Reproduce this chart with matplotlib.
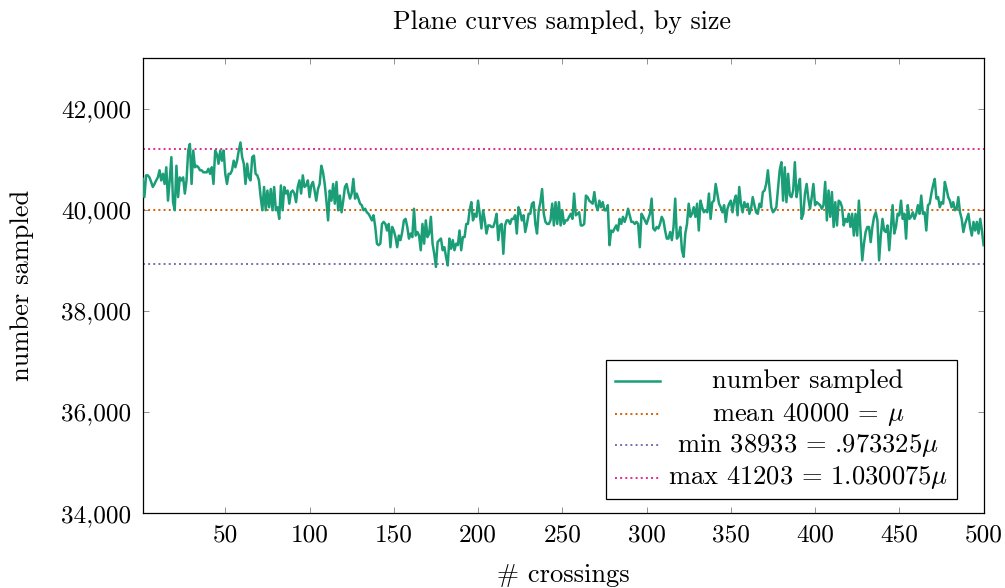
import numpy as np
import matplotlib.pyplot as plt
from matplotlib.patches import Rectangle

plt.rcParams['font.family'] = 'serif'
plt.rcParams['font.serif'] = ['cmr10']
plt.rcParams['mathtext.fontset'] = 'cm'
plt.rcParams['axes.formatter.use_mathtext'] = True

# number sampled per crossing count (1..500)
sampled_001_100 = [
    40610, 40250, 40680, 40680, 40640, 40550, 40450, 40510, 40580, 40640,
    40780, 40580, 40710, 40510, 40840, 40180, 40580, 41040, 40150, 39990,
    40870, 40250, 40640, 40580, 40640, 40320, 40580, 41170, 41300, 40510,
    41170, 40840, 40870, 40840, 40780, 40780, 40740, 40740, 40740, 40810,
    40710, 40840, 40510, 41170, 41100, 40910, 41170, 40970, 41170, 40710,
    40510, 40710, 40710, 40780, 40970, 40840, 40970, 41170, 41330, 41040,
    40910, 40510, 40910, 40640, 40580, 41040, 41070, 40710, 40680, 40580,
    40250, 39990, 40450, 39990, 40380, 40050, 40410, 39990, 40450, 39990,
    40050, 39820, 40480, 39990, 40450, 40320, 40380, 40120, 40350, 40380,
    40320, 40150, 40450, 40580, 40320, 40680, 40450, 40480, 40580, 40250,
]
sampled_101_200 = [
    40480, 40550, 40380, 40180, 40410, 40510, 40870, 40740, 40510, 40180,
    39790, 40380, 40180, 40510, 40120, 40550, 39990, 40280, 39950, 40180,
    40450, 40510, 40350, 40220, 40320, 40610, 40220, 40320, 40220, 40120,
    40090, 39990, 40020, 39950, 39920, 39860, 39790, 39890, 39660, 39330,
    39300, 39330, 39720, 39760, 39720, 39590, 39720, 39260, 39660, 39590,
    39460, 39260, 39490, 39400, 39560, 39790, 39820, 39660, 39430, 39530,
    39460, 40020, 39490, 39560, 39490, 39200, 39720, 39330, 39790, 39460,
    39530, 39860, 39330, 39130, 38870, 39360, 39400, 39430, 39200, 39260,
    39070, 38900, 39430, 39230, 39400, 39200, 39330, 39300, 39590, 39200,
    39460, 39460, 39720, 39720, 39990, 40150, 39790, 39920, 39860, 40180,
]
sampled_201_300 = [
    39920, 39630, 39990, 39790, 39530, 39690, 39690, 39660, 39660, 39760,
    39920, 39400, 39690, 39720, 39130, 39690, 39790, 39790, 39720, 39820,
    39820, 39890, 39530, 40050, 39950, 39790, 39890, 39560, 39720, 39920,
    39920, 40120, 40150, 39720, 39530, 39990, 40150, 40410, 39920, 39760,
    39720, 39720, 39790, 40120, 39690, 40150, 39720, 40150, 39690, 39990,
    39720, 39790, 39790, 39860, 39920, 39820, 40320, 39890, 39920, 39950,
    39690, 39690, 39720, 40280, 40250, 40180, 40150, 40120, 40350, 40090,
    39990, 40180, 40050, 40150, 39990, 39990, 40090, 39300, 39590, 39560,
    39630, 39690, 39590, 39820, 39720, 39860, 39760, 39860, 40020, 39890,
    39760, 39760, 39720, 39760, 39720, 39260, 39920, 39860, 39790, 39720,
]
sampled_301_400 = [
    39820, 39920, 40220, 39630, 39590, 39660, 39630, 39720, 39860, 39790,
    39590, 39430, 39430, 39560, 39400, 39660, 40220, 39430, 39490, 39660,
    39200, 39070, 39530, 39720, 40120, 39860, 39920, 40050, 39860, 40120,
    39590, 40180, 40050, 39950, 39990, 39950, 40320, 39820, 40150, 40180,
    40510, 40320, 40120, 40050, 39950, 40090, 39760, 40020, 40120, 40180,
    39950, 40180, 40280, 39890, 40450, 40120, 39950, 40150, 40050, 40120,
    39920, 40020, 40250, 40090, 39950, 39920, 40120, 40050, 40350, 40380,
    40510, 40780, 40410, 40050, 39950, 39990, 40050, 40410, 40780, 40940,
    40180, 40840, 40150, 40710, 40280, 40250, 40380, 40940, 40250, 40450,
    40610, 39820, 39920, 40320, 40510, 40220, 40020, 40250, 40510, 40090,
]
sampled_401_500 = [
    40150, 40120, 40090, 40020, 40090, 40550, 39790, 40380, 39860, 40350,
    39660, 40150, 39690, 40180, 40150, 40050, 39690, 39820, 39760, 39920,
    39660, 39920, 39490, 39920, 39490, 40180, 39560, 39000, 39330, 39560,
    39660, 39660, 39360, 39660, 39860, 39950, 39790, 39000, 39490, 39820,
    39590, 39560, 39690, 39200, 39660, 40090, 39530, 39660, 39920, 39890,
    40180, 39820, 39920, 39430, 40090, 39820, 39860, 39950, 39820, 39920,
    40090, 39920, 40280, 39920, 39950, 39590, 40090, 40120, 40320, 40480,
    40610, 40220, 40250, 40050, 40150, 40120, 40550, 40410, 40250, 40180,
    40050, 40150, 39990, 40020, 40250, 39950, 39820, 39560, 39720, 39820,
    39920, 39660, 39490, 39760, 39590, 39760, 39530, 39820, 39590, 39300,
]

sampled = (sampled_001_100 + sampled_101_200 + sampled_201_300
           + sampled_301_400 + sampled_401_500)
crossings = np.arange(1, len(sampled) + 1)

mean_val = 40000
min_val = 38933
max_val = 41203

xticks = [50, 100, 150, 200, 250, 300, 350, 400, 450, 500]
yticks = [34000, 36000, 38000, 40000, 42000]
ytick_labels = ['34,000', '36,000', '38,000', '40,000', '42,000']

legend_labels = [
    'number sampled',
    r'mean 40000 = $\mu$',
    r'min 38933 = .973325$\mu$',
    r'max 41203 = 1.030075$\mu$',
]

c_green = '#1b9e77'
c_orange = '#d95f02'
c_purple = '#7570b3'
c_pink = '#e7298a'

fs_tick = 18.2
fs_lab = 19.1

fig = plt.figure(figsize=(10.05, 5.88), dpi=100)
ax = fig.add_axes([0.1420, 0.1270, 0.8367, 0.7744])

ax.plot(crossings, sampled, color=c_green, lw=1.8, zorder=3)
ax.axhline(mean_val, color=c_orange, lw=1.4, ls=':', zorder=2)
ax.axhline(min_val, color=c_purple, lw=1.4, ls=':', zorder=2)
ax.axhline(max_val, color=c_pink, lw=1.4, ls=':', zorder=2)

ax.set_xlim(1, 500)
ax.set_ylim(34000, 43000)
ax.set_xticks(xticks)
ax.set_xticklabels([str(t) for t in xticks])
ax.set_yticks(yticks)
ax.set_yticklabels(ytick_labels)
ax.tick_params(direction='in', length=4, width=0.6, color='0.5',
               top=True, right=True, labelsize=fs_tick)
ax.tick_params(axis='x', pad=8)
ax.tick_params(axis='y', pad=8)
for s in ax.spines.values():
    s.set_linewidth(0.9)

fig.text(0.559, 0.962, 'Plane curves sampled, by size', ha='center',
         va='center', fontsize=18.7)
fig.text(0.561, 0.022, '# crossings', ha='center', va='center',
         fontsize=fs_lab)
fig.text(0.022, 0.514, 'number sampled', ha='center', va='center',
         rotation=90, fontsize=fs_lab)

# legend box drawn by hand so the labels can be centred like pgfplots
ax.add_patch(Rectangle((0.551, 0.0314), 0.4178, 0.3053,
                       transform=ax.transAxes, facecolor='white',
                       edgecolor='black', lw=0.9, zorder=5))
leg_colors = [c_green, c_orange, c_purple, c_pink]
leg_styles = ['-', ':', ':', ':']
leg_y = [0.291, 0.218, 0.150, 0.0776]
for lab, col, st, yy in zip(legend_labels, leg_colors, leg_styles, leg_y):
    ax.plot([0.5618, 0.6153], [yy, yy], transform=ax.transAxes, color=col,
            ls=st, lw=1.8 if st == '-' else 1.4, zorder=6, clip_on=False)
    ax.text(0.7913, yy, lab, transform=ax.transAxes, ha='center',
            va='center', fontsize=fs_lab, zorder=6)

fig.savefig('out.png', dpi=100)
